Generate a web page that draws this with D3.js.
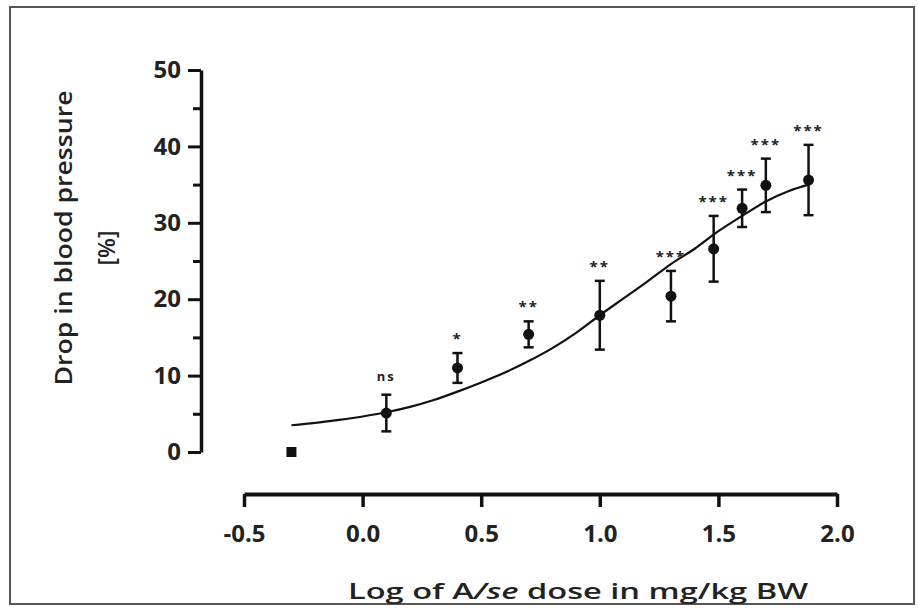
<!DOCTYPE html>
<html>
<head>
<meta charset="utf-8">
<script src="https://cdn.jsdelivr.net/npm/d3@7"></script>
<style>
  body { margin: 0; background: #fff; }
  svg { display: block; }
  text { font-family: "Open Sans", "Noto Sans", sans-serif; fill: #222; }
</style>
</head>
<body>
<div id="chart"></div>
<script>
// Dose-response: drop in blood pressure vs log dose

// Log dose (x) of each group
const logDose = [-0.30, 0.10, 0.40, 0.70, 1.00, 1.30, 1.48, 1.60, 1.70, 1.88];
// Mean drop in blood pressure (%)
const meanDrop = [0, 5.1, 11.0, 15.4, 17.9, 20.4, 26.6, 31.9, 34.9, 35.6];
// Error bar half-length (%)
const errDrop = [0, 2.4, 1.95, 1.7, 4.5, 3.3, 4.3, 2.45, 3.5, 4.6];
// Significance marks above each point
const sigLabels = ['', 'ns', '*', '**', '**', '***', '***', '***', '***', '***'];

// Fitted curve
const curveX = [-0.3, -0.2, -0.1, 0.0, 0.1, 0.2, 0.3, 0.4, 0.5, 0.6, 0.7, 0.8, 0.9, 1.0, 1.1, 1.2, 1.3, 1.4, 1.5, 1.6, 1.7, 1.8, 1.88];
const curveY = [3.5, 3.8, 4.2, 4.65, 5.2, 5.9, 6.8, 7.9, 9.1, 10.4, 11.9, 13.6, 15.6, 17.9, 20.1, 22.3, 24.6, 26.6, 28.9, 30.9, 32.8, 34.2, 35.0];

// Axis ticks
const xTicks = [-0.5, 0.0, 0.5, 1.0, 1.5, 2.0];
const yTicks = [0, 10, 20, 30, 40, 50];
const yMinorTicks = [5, 15, 25, 35, 45];

const W = 918, H = 608;

const svg = d3.select('#chart')
    .append('svg')
    .attr('width', W)
    .attr('height', H);

// Outer frame
svg.append('rect')
    .attr('x', 10)
    .attr('y', 7)
    .attr('width', 904)
    .attr('height', 597)
    .attr('fill', '#fff')
    .attr('stroke', '#555')
    .attr('stroke-width', 2);

// Scales
const x = d3.scaleLinear().domain([-0.5, 2.0]).range([244, 837]);
const y = d3.scaleLinear().domain([0, 50]).range([452, 70]);

// Y axis (major + minor ticks)
const yAxis = svg.append('g')
    .attr('transform', 'translate(201,0)')
    .call(d3.axisLeft(y).tickValues(yTicks).tickSize(13).tickSizeOuter(0).tickPadding(7));

yAxis.select('.domain').attr('stroke', '#111').attr('stroke-width', 3.5);
yAxis.selectAll('.tick line').attr('stroke', '#111').attr('stroke-width', 3);
yAxis.selectAll('.tick text')
    .style('font-size', '24px')
    .style('font-weight', 'bold')
    .attr('fill', '#222');

const yMinor = svg.append('g')
    .attr('transform', 'translate(201,0)')
    .call(d3.axisLeft(y).tickValues(yMinorTicks).tickSize(8).tickFormat(''));
yMinor.select('.domain').remove();
yMinor.selectAll('.tick line').attr('stroke', '#111').attr('stroke-width', 3);

// X axis
const xAxis = svg.append('g')
    .attr('transform', 'translate(0,494)')
    .call(d3.axisBottom(x).tickValues(xTicks).tickSize(13).tickSizeOuter(0).tickPadding(18)
        .tickFormat(d => d.toFixed(1)));

xAxis.select('.domain').attr('stroke', '#111').attr('stroke-width', 4);
xAxis.selectAll('.tick line').attr('stroke', '#111').attr('stroke-width', 3.5);
xAxis.selectAll('.tick text')
    .style('font-size', '24px')
    .style('font-weight', 'bold')
    .attr('fill', '#222');

// Axis titles
svg.append('text')
    .attr('transform', 'translate(72,238) rotate(-90)')
    .attr('text-anchor', 'middle')
    .attr('textLength', 295)
    .attr('lengthAdjust', 'spacingAndGlyphs')
    .style('font-size', '23px')
    .style('font-weight', 600)
    .text('Drop in blood pressure');

svg.append('text')
    .attr('transform', 'translate(115,248) rotate(-90)')
    .attr('text-anchor', 'middle')
    .style('font-size', '23px')
    .style('font-weight', 600)
    .text('[%]');

const xTitle = svg.append('text')
    .attr('x', 578)
    .attr('y', 599)
    .attr('text-anchor', 'middle')
    .attr('textLength', 460)
    .attr('lengthAdjust', 'spacingAndGlyphs')
    .style('font-size', '22px')
    .style('font-weight', 600);
xTitle.append('tspan').text('Log of A');
xTitle.append('tspan').style('font-style', 'italic').text('/se');
xTitle.append('tspan').text(' dose in mg/kg BW');

// Fitted curve
const curvePts = curveX.map((cx, i) => [cx, curveY[i]]);
svg.append('path')
    .datum(curvePts)
    .attr('fill', 'none')
    .attr('stroke', '#111')
    .attr('stroke-width', 2.2)
    .attr('d', d3.line()
        .x(d => x(d[0]))
        .y(d => y(d[1]))
        .curve(d3.curveMonotoneX));

// Data points
const points = logDose.map((d, i) => ({
    x: d, mean: meanDrop[i], err: errDrop[i], label: sigLabels[i], i
}));

const pts = svg.append('g');

// Error bars
const bars = pts.selectAll('.err')
    .data(points.filter(d => d.err > 0))
    .enter()
    .append('g')
    .attr('class', 'err')
    .attr('stroke', '#111')
    .attr('stroke-width', 2.5);

bars.append('line')
    .attr('x1', d => x(d.x)).attr('x2', d => x(d.x))
    .attr('y1', d => y(d.mean - d.err)).attr('y2', d => y(d.mean + d.err));
bars.append('line')
    .attr('x1', d => x(d.x) - 5).attr('x2', d => x(d.x) + 5)
    .attr('y1', d => y(d.mean + d.err)).attr('y2', d => y(d.mean + d.err));
bars.append('line')
    .attr('x1', d => x(d.x) - 5).attr('x2', d => x(d.x) + 5)
    .attr('y1', d => y(d.mean - d.err)).attr('y2', d => y(d.mean - d.err));

// Markers: control group square, the rest circles
pts.selectAll('.marker')
    .data(points)
    .enter()
    .append('path')
    .attr('class', 'marker')
    .attr('transform', d => `translate(${x(d.x)},${y(d.mean)})`)
    .attr('d', d => d3.symbol()
        .type(d.i === 0 ? d3.symbolSquare : d3.symbolCircle)
        .size(d.i === 0 ? 100 : 95)())
    .attr('fill', '#111');

// Significance labels
pts.selectAll('.sig')
    .data(points.filter(d => d.label))
    .enter()
    .append('text')
    .attr('class', 'sig')
    .attr('x', d => x(d.x))
    .attr('y', d => y(d.mean + d.err) - 18 + (d.label === 'ns' ? 4 : 9))
    .attr('text-anchor', 'middle')
    .style('font-size', d => d.label === 'ns' ? '13px' : '15px')
    .style('font-weight', 'bold')
    .style('letter-spacing', '2px')
    .attr('fill', '#2a3140')
    .text(d => d.label);
</script>
</body>
</html>
